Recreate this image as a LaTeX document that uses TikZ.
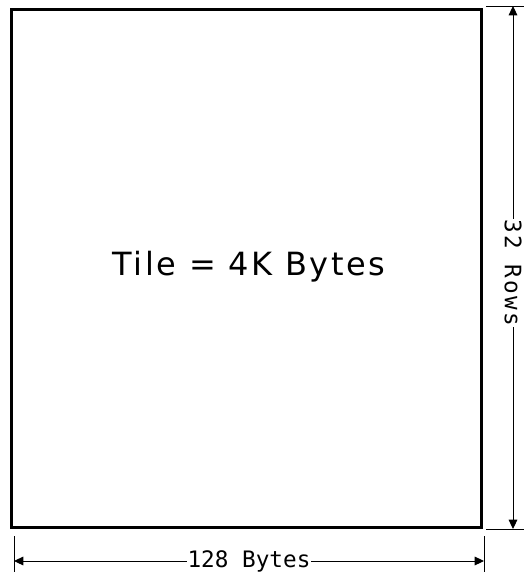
\documentclass[tikz,border=0pt]{standalone}
\usepackage{fontspec}
\setmainfont{DejaVu Sans}
\newfontfamily\dimfont{DejaVu Sans Mono}
\newfontfamily\rowsfont[LetterSpace=10]{DejaVu Sans Mono}
\newfontfamily\tilefont[LetterSpace=8]{DejaVu Sans}
\usetikzlibrary{arrows.meta}
\begin{document}
\begin{tikzpicture}[x=0.75pt,y=-0.75pt,
  tilebox/.style={draw=black,line width=2.25pt,minimum width=469.5*0.75pt,minimum height=518.5*0.75pt,inner sep=0pt},
  thinline/.style={draw=black,line width=0.75pt},
  dimarrow/.style={thinline,{Triangle[length=7pt,width=6.5pt]}-{Triangle[length=7pt,width=6.5pt]}},
  dimlabel/.style={fill=white,inner sep=0.5pt,text=black}]
\useasboundingbox (0,0) rectangle (524,575);
\node[tilebox] (tile) at (246.25,268.25) {};
\node[font=\tilefont\fontsize{24}{24}\selectfont] (tiletext) at (249,267) {Tile = 4K Bytes};
% horizontal dimension
\coordinate (hlt) at (14,536);
\coordinate (hlb) at (14,572);
\coordinate (hrt) at (484,536);
\coordinate (hrb) at (484,572);
\coordinate (ha) at (14,561);
\coordinate (hb) at (484,561);
\draw[thinline] (hlt) -- (hlb);
\draw[thinline] (hrt) -- (hrb);
\draw[dimarrow] (ha) -- (hb) node[midway,dimlabel,font=\dimfont\fontsize{17}{17}\selectfont] (wlabel) {128 Bytes};
% vertical dimension
\coordinate (vtl) at (486,6);
\coordinate (vtr) at (524,6);
\coordinate (vbl) at (486,529);
\coordinate (vbr) at (524,529);
\coordinate (va) at (513,6);
\coordinate (vb) at (513,529);
\draw[thinline] (vtl) -- (vtr);
\draw[thinline] (vbl) -- (vbr);
\draw[dimarrow] (va) -- (vb) node[pos=0.51,dimlabel,rotate=-90,font=\rowsfont\fontsize{17}{17}\selectfont] (hlabel) {32 Rows};
\end{tikzpicture}
\end{document}
